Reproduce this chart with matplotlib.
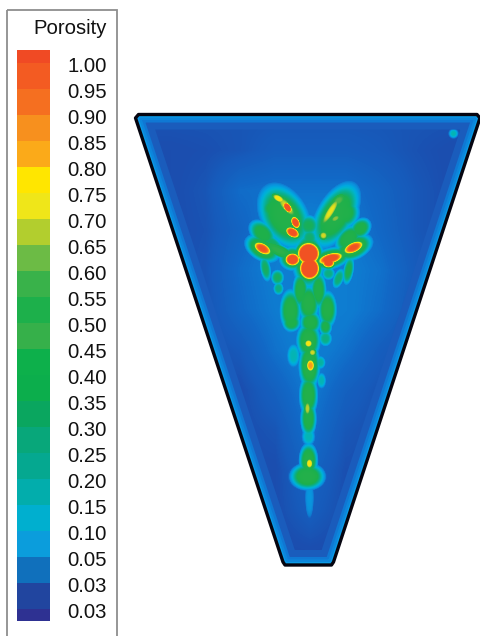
import numpy as np
import matplotlib
matplotlib.use('Agg')
import matplotlib.pyplot as plt
from matplotlib.colors import ListedColormap, LinearSegmentedColormap
from matplotlib.patches import Polygon, Rectangle

plt.rcParams['font.family'] = ['Liberation Sans', 'DejaVu Sans']

# legend, top to bottom
legend_labels = ['1.00', '0.95', '0.90', '0.85', '0.80', '0.75', '0.70', '0.65', '0.60', '0.55', '0.50',
                 '0.45', '0.40', '0.35', '0.30', '0.25', '0.20', '0.15', '0.10', '0.05', '0.03', '0.03']
legend_levels = [1.00, 0.95, 0.90, 0.85, 0.80, 0.75, 0.70, 0.65, 0.60, 0.55, 0.50,
                 0.45, 0.40, 0.35, 0.30, 0.25, 0.20, 0.15, 0.10, 0.05, 0.034, 0.025]
legend_colors = ['#F04A24', '#F35B22', '#F56F20', '#F7901E', '#FBAA19', '#FFE600', '#EFE619', '#B2CE2E',
                 '#6CBB45', '#39B24A', '#1DB04B', '#36B04A', '#0DB04B', '#0CAE4C', '#0AA65F', '#08A77A',
                 '#05A890', '#02ADAC', '#00AFCF', '#0B9DDC', '#1070BC', '#21459F', '#2E3192']
# the picture itself prints flatter in the greens and more saturated at the blue end
field_colors = legend_colors[:10] + ['#24B04A', '#24B04A', '#1FB04A', '#1CB04E',
                                     '#12AE70', '#0AB090', '#05B4B0', '#00B4D0', '#00A8E0',
                                     '#0B90DC', '#1268C6', '#1B4FB0', '#2440A4']

# outline of the vessel, small chamfers on the corners
shape_x = [135.5, 138.5, 477, 480, 333.5, 331.5, 285, 283]
shape_y = [118, 114.5, 114.5, 118, 562, 565, 565, 562]

# coarse porosity over the vessel
bg_x = [135, 170, 205, 240, 275, 310, 345, 380, 415, 450, 485]
bg_y = [113, 150, 190, 230, 270, 310, 350, 390, 430, 470, 510, 550, 570]
bg_values = [
    [.032, .032, .032, .032, .032, .032, .032, .032, .032, .032, .032],
    [.029, .029, .030, .032, .036, .036, .036, .034, .031, .029, .029],
    [.029, .029, .032, .044, .046, .046, .046, .040, .033, .029, .029],
    [.029, .029, .031, .040, .050, .054, .050, .042, .033, .029, .029],
    [.029, .029, .032, .044, .052, .056, .052, .046, .035, .029, .029],
    [.029, .029, .031, .042, .050, .056, .052, .044, .033, .029, .029],
    [.029, .029, .029, .034, .046, .054, .046, .036, .029, .029, .029],
    [.029, .029, .029, .029, .038, .050, .038, .031, .029, .029, .029],
    [.029, .029, .029, .029, .032, .046, .033, .029, .029, .029, .029],
    [.029, .029, .029, .029, .029, .040, .030, .029, .029, .029, .029],
    [.028, .028, .028, .028, .029, .036, .029, .028, .028, .028, .028],
    [.028, .028, .028, .028, .028, .029, .028, .028, .028, .028, .028],
    [.028, .028, .028, .028, .028, .028, .028, .028, .028, .028, .028],
]

# high porosity patches: centre, half length, half width, angle, peak
blob_x = [308, 309, 308, 292, 278, 292, 330, 328, 330, 345, 262, 262, 353, 353, 262, 272, 360, 348,
          284, 273, 286, 287, 295, 292, 278, 335, 343, 338, 330, 323, 335, 308, 309,
          277, 278, 265, 338, 348, 328,
          300, 318, 290, 308, 327, 310, 291, 325, 308, 309, 308, 308, 308,
          308, 312, 310, 307, 293, 325, 321, 320, 307, 308, 309, 309, 453]
blob_y = [253, 268, 260, 259, 250, 258, 258, 262, 258, 252, 248, 248, 247, 247, 233, 243, 228, 238,
          216, 208, 206, 207, 222, 232, 198, 215, 212, 200, 211, 235, 218, 225, 238,
          277, 288, 268, 278, 270, 273,
          290, 290, 310, 303, 309, 322, 322, 326, 340, 365, 395, 418, 436,
          343, 352, 365, 408, 355, 338, 380, 362, 476, 460, 463, 497, 133]
blob_len = [10, 9, 12, 7, 16, 10, 12, 6, 16, 10, 9, 14, 10, 15, 12, 12, 9, 12,
            26, 10, 13, 6, 6, 7, 7, 27, 12, 8, 16, 4, 5, 8, 6,
            5, 4, 4, 4, 4, 5,
            6, 6, 8, 8, 7, 8, 7, 5, 9, 8, 7, 6, 5,
            4, 3.5, 4, 3, 5, 5, 3.5, 4, 13, 7, 3.5, 3, 3.5]
blob_wid = [10, 10, 21, 6, 5, 9, 5, 5, 8, 5, 5, 9, 5, 9, 8, 5, 7, 8,
            17, 10, 5, 3.5, 4, 4.5, 3.5, 14, 12, 5, 4, 4, 3, 8, 8,
            6, 5, 10, 8, 11, 5,
            14, 14, 16, 14, 14, 9, 7, 7, 14, 18, 16, 14, 7,
            4, 3.5, 6, 7, 9, 6, 6, 5, 10, 13, 5, 14, 3.5]
blob_deg = [0, 0, 0, 0, 25, 0, -15, 0, -15, -20, 30, 30, -25, -25, 45, 40, -45, -45,
            60, 0, 50, 55, 65, 30, 30, -60, 0, -40, -58, 0, -30, 0, 0,
            0, 0, -10, 20, 10, 0,
            0, 0, 0, 0, 0, 0, 0, 0, 0, 0, 0, 0, 0,
            0, 0, 0, 0, 0, 0, 0, 0, 0, 0, 0, 0, 0]
blob_peak = [1.3, 1.3, .55, 1.1, .55, .5, 1.05, 1.05, .5, .45, 1.0, .5, 1.0, .5, .42, .35, .42, .45,
             .47, .4, .7, 1.05, 1.05, 1.05, .75, .47, .45, .6, .72, .7, .65, .36, .33,
             .35, .3, .35, .32, .38, .3,
             .44, .44, .46, .48, .46, .45, .42, .4, .48, .5, .46, .44, .22,
             .75, .7, .85, .68, .22, .3, .22, .25, .47, .47, .75, .09, .22]


def porosity_field(xx, yy):
    # bilinear fill of the coarse grid, then the patches on top
    rows = np.array([np.interp(xx[0], bg_x, r) for r in bg_values])
    field = np.array([np.interp(yy[:, 0], bg_y, rows[:, j]) for j in range(rows.shape[1])]).T
    for x0, y0, a, b, deg, peak in zip(blob_x, blob_y, blob_len, blob_wid, blob_deg, blob_peak):
        t = np.radians(deg)
        u = (xx - x0) * np.cos(t) + (yy - y0) * np.sin(t)
        v = -(xx - x0) * np.sin(t) + (yy - y0) * np.cos(t)
        r = np.sqrt((u / (a * 1.15)) ** 2 + (v / (b * 1.15)) ** 2)
        # thin pale blue skirt round each patch
        field = np.maximum(field, min(peak, 0.085) * np.exp(-(r / 1.35) ** 4))
        field = np.maximum(field, peak * np.exp(-r ** 4))
    return field


fig = plt.figure(figsize=(4.81, 6.36), dpi=100)
ax = fig.add_axes([0, 0, 1, 1])
ax.set_xlim(0, 481)
ax.set_ylim(636, 0)
ax.axis('off')

# legend box, open at the bottom of the page
ax.add_patch(Rectangle((7.5, 9.5), 110, 640, fill=False, edgecolor='#8E8E8E', linewidth=1.3))
ax.text(107, 29, 'Porosity', ha='right', va='center', fontsize=14.6, color='#111111')

# colour legend
step = 26.0
top = 63.0
cmap = ListedColormap(legend_colors)
edges = np.concatenate([[50], top + step * np.arange(22), [621]])
ax.pcolormesh([17, 50], edges, np.arange(23).reshape(-1, 1), cmap=cmap, vmin=-0.5, vmax=22.5)
for i, lab in enumerate(legend_labels):
    ax.text(107, top + step * i + 3, lab, ha='right', va='center', fontsize=14.6, color='#111111')

# contour picture, colours run smoothly between the legend steps
xs = np.arange(130, 482.0)
ys = np.arange(108, 572.0)
xx, yy = np.meshgrid(xs, ys)
field = porosity_field(xx, yy)
pos = np.interp(field, legend_levels[::-1], np.arange(21, -1, -1) + 0.5)
smooth = LinearSegmentedColormap.from_list('porosity', field_colors, N=512)
verts = np.column_stack([shape_x, shape_y])
clip = Polygon(verts, closed=True, transform=ax.transData, facecolor='none', edgecolor='none')
ax.add_patch(clip)
im = ax.imshow(pos, extent=(130, 482, 572, 108), cmap=smooth, vmin=0, vmax=22, interpolation='bilinear', aspect='auto')
im.set_clip_path(clip)
ax.set_xlim(0, 481)
ax.set_ylim(636, 0)

# wall bands, strokes clipped to the inside
for width, col in [(30, '#1A5CBC'), (16, '#0F78D4'), (11, '#0C86DC'), (6, '#0A9AE6')]:
    band = Polygon(verts, closed=True, fill=False, edgecolor=col, linewidth=width * 0.72, joinstyle='round')
    ax.add_patch(band)
    band.set_clip_path(clip)

ax.add_patch(Polygon(verts, closed=True, fill=False, edgecolor='#050510', linewidth=2.4, joinstyle='round'))

fig.savefig('out.png', dpi=100)
